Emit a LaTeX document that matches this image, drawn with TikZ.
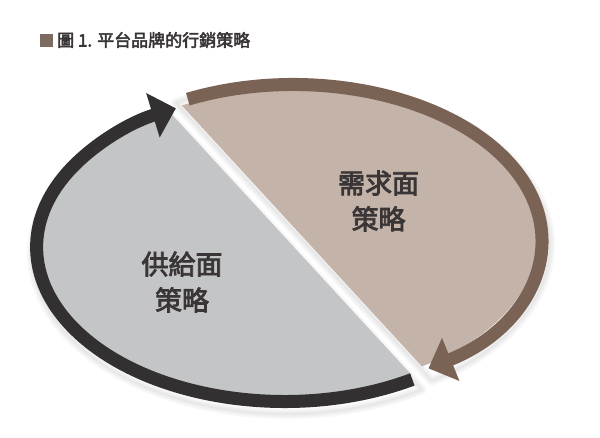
\documentclass[tikz,border=0pt]{standalone}
\usepackage{fontspec}
\usepackage{tikz}
\usetikzlibrary{arrows.meta}
\newfontfamily\cjk[FakeBold=3]{Noto Sans CJK TC}

\definecolor{supplygray}{HTML}{C4C5C7}
\definecolor{demandtan}{HTML}{C3B3A9}
\definecolor{darkarc}{HTML}{323031}
\definecolor{brownarc}{HTML}{7A6255}
\definecolor{squarebrown}{HTML}{7D6B61}
\definecolor{txtgray}{HTML}{3A3637}

\begin{document}
\begin{tikzpicture}[x=1pt, y=1pt,
    every node/.style={text=txtgray},
    halftext/.style={align=center, font=\cjk\fontsize{27}{36}\selectfont},
    softshadow/.style={black, opacity=0.03, line join=round},
    arrowline/.style={line width=13, -{Triangle[length=24pt, width=45pt]}}]
    % fundo
    \fill[white] (0,0) rectangle (600,437);
    \useasboundingbox (0,0) rectangle (600,437);

    % sombras das duas metades
    \foreach \w in {10,6,2} {
        \draw[softshadow, line width=\w] (286.6,183.9) ++(118.4:254.6 and 160.9)
            arc[start angle=118.4, end angle=302, x radius=254.6, y radius=160.9] -- cycle;
        \draw[softshadow, line width=\w] (295.4,192.1) ++(-57.6:254.6 and 160.9)
            arc[start angle=-57.6, end angle=118, x radius=254.6, y radius=160.9] -- cycle;
    }

    % metade esquerda (oferta)
    \fill[supplygray] (284.6,189.9) ++(117.6:244 and 150)
        arc[start angle=117.6, end angle=301.4, x radius=244, y radius=150] -- cycle;
    % metade direita (procura)
    \fill[demandtan] (293.4,198.1) ++(-58.2:244 and 150)
        arc[start angle=-58.2, end angle=117.2, x radius=244, y radius=150] -- cycle;

    % seta escura
    \draw[darkarc, arrowline] (284.6,189.9) ++(-59:248 and 154.4)
        arc[start angle=-59, end angle=-244, x radius=248, y radius=154.4];
    % seta castanha
    \draw[brownarc, arrowline] (293.4,198.1) ++(115.2:248 and 154.4)
        arc[start angle=115.2, end angle=-57, x radius=248, y radius=154.4];

    % textos
    \node[halftext] (demand) at (378.5,236) {需求面\\策略};
    \node[halftext] (supply) at (182,155) {供給面\\策略};

    % titulo
    \node[fill=squarebrown, minimum size=13, inner sep=0] (mark) at (46.5,396.5) {};
    \node[anchor=west, inner sep=0, font=\cjk\fontsize{17}{20}\selectfont] (title) at (57,397) {圖 1. 平台品牌的行銷策略};
\end{tikzpicture}
\end{document}
